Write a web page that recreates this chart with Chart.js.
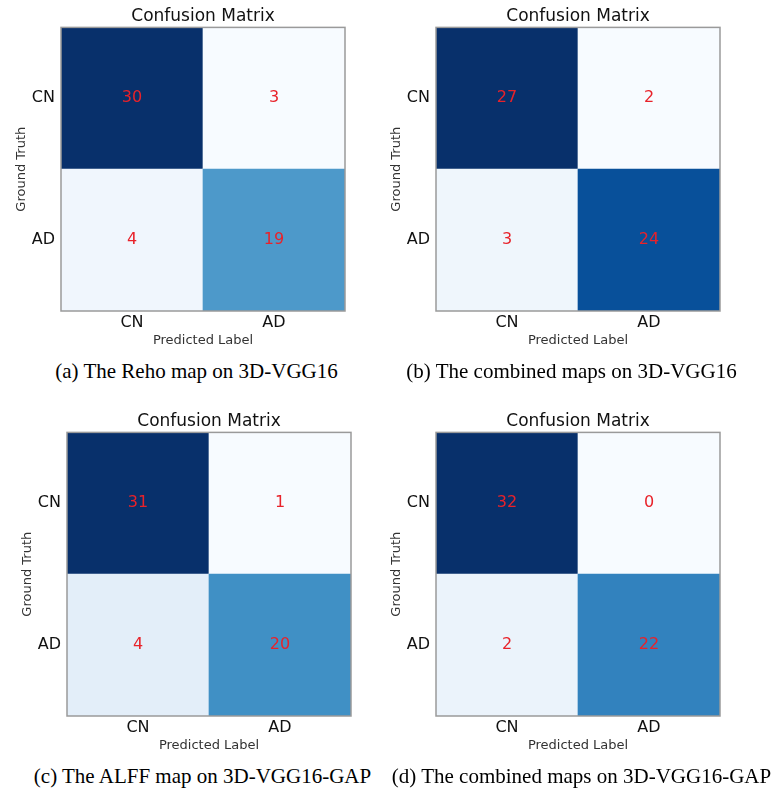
<!DOCTYPE html>
<html>
<head>
<meta charset="utf-8">
<script src="https://cdn.jsdelivr.net/npm/chart.js@4/dist/chart.umd.min.js"></script>
<style>
  body { margin: 0; background: #fff; }
  #page { position: relative; width: 773px; height: 789px; overflow: hidden; }
  .panel { position: absolute; }
  .caption {
    position: absolute; width: 383px; text-align: center; white-space: nowrap;
    font-family: "Liberation Serif", "Times New Roman", serif; font-size: 21px;
    line-height: 24px; color: #000;
  }
</style>
</head>
<body>
<div id="page">
  <div class="panel" style="left:0;top:0"><canvas id="cmA" width="383" height="348"></canvas></div>
  <div class="panel" style="left:375px;top:0"><canvas id="cmB" width="383" height="348"></canvas></div>
  <div class="panel" style="left:6px;top:405px"><canvas id="cmC" width="383" height="348"></canvas></div>
  <div class="panel" style="left:375px;top:405px"><canvas id="cmD" width="383" height="348"></canvas></div>

  <div class="caption" style="left:5px;top:359px">(a) The Reho map on 3D-VGG16</div>
  <div class="caption" style="left:380px;top:359px">(b) The combined maps on 3D-VGG16</div>
  <div class="caption" style="left:11px;top:764px">(c) The ALFF map on 3D-VGG16-GAP</div>
  <div class="caption" style="left:390px;top:764px">(d) The combined maps on 3D-VGG16-GAP</div>
</div>

<script>
// Confusion matrices: rows = ground truth, columns = predicted label
const predictedLabels = ['CN', 'AD'];
const truthLabels = ['CN', 'AD'];

const rehoVGG16 = [[30, 3], [4, 19]];
const combinedVGG16 = [[27, 2], [3, 24]];
const alffGAP = [[31, 1], [4, 20]];
const combinedGAP = [[32, 0], [2, 22]];

const FONT = '"DejaVu Sans", sans-serif';

// matplotlib "Blues" colormap
const BLUES = ['#f7fbff', '#deebf7', '#c6dbef', '#9ecae1', '#6baed6', '#4292c6', '#2171b5', '#08519c', '#08306b'];

function hexToRgb(h) {
  return [parseInt(h.slice(1, 3), 16), parseInt(h.slice(3, 5), 16), parseInt(h.slice(5, 7), 16)];
}

function blues(t) {
  t = Math.max(0, Math.min(1, t));
  const pos = t * (BLUES.length - 1);
  const i = Math.min(Math.floor(pos), BLUES.length - 2);
  const f = pos - i;
  const a = hexToRgb(BLUES[i]), b = hexToRgb(BLUES[i + 1]);
  const c = a.map((v, k) => Math.round(v + (b[k] - v) * f));
  return `rgb(${c[0]},${c[1]},${c[2]})`;
}

// counts in red + grey frame round the matrix
const cellText = {
  id: 'cellText',
  afterDatasetsDraw(chart) {
    const { ctx, chartArea } = chart;
    ctx.save();
    ctx.font = '16px ' + FONT;
    ctx.fillStyle = '#e8222a';
    ctx.textAlign = 'center';
    ctx.textBaseline = 'middle';
    chart.data.datasets.forEach((ds, i) => {
      chart.getDatasetMeta(i).data.forEach((bar, j) => {
        const p = bar.getCenterPoint();
        ctx.fillText(String(ds.counts[j]), p.x, p.y);
      });
    });
    ctx.strokeStyle = '#9a9a9a';
    ctx.lineWidth = 1.5;
    ctx.strokeRect(chartArea.left, chartArea.top, chartArea.width, chartArea.height);
    ctx.restore();
  }
};

function drawMatrix(id, matrix) {
  const flat = matrix.flat();
  const lo = Math.min(...flat), hi = Math.max(...flat);

  // stacked bars: first dataset sits at the bottom, so go from last row up
  const datasets = [];
  for (let r = truthLabels.length - 1; r >= 0; r--) {
    datasets.push({
      label: truthLabels[r],
      data: matrix[r].map(() => 1),
      counts: matrix[r],
      backgroundColor: matrix[r].map(v => blues((v - lo) / (hi - lo))),
      borderWidth: 0,
      barPercentage: 1,
      categoryPercentage: 1
    });
  }

  new Chart(document.getElementById(id), {
    type: 'bar',
    data: { labels: predictedLabels, datasets },
    options: {
      responsive: false,
      animation: false,
      layout: { padding: { left: 0, right: 38, top: 0, bottom: 0 } },
      scales: {
        x: {
          stacked: true,
          offset: true,
          grid: { display: false, drawTicks: false },
          border: { display: false },
          ticks: { padding: 2, color: '#111', font: { family: FONT, size: 16 } },
          title: {
            display: true, text: 'Predicted Label', color: '#333',
            font: { family: FONT, size: 13 }, padding: { top: 0, bottom: 0 }
          },
          afterFit: s => { s.height = 37; }
        },
        y: {
          type: 'linear',
          stacked: true,
          min: 0,
          max: truthLabels.length,
          grid: { display: false, drawTicks: false },
          border: { display: false },
          afterBuildTicks: s => {
            s.ticks = truthLabels.map((_, k) => ({ value: k + 0.5 }));
          },
          ticks: {
            padding: 6, color: '#111', font: { family: FONT, size: 16 },
            callback: v => truthLabels[truthLabels.length - 1 - Math.floor(v)]
          },
          title: {
            display: true, text: 'Ground Truth', color: '#333',
            font: { family: FONT, size: 13 }, padding: { top: 14, bottom: 0 }
          },
          afterFit: s => { s.width = 61; }
        }
      },
      plugins: {
        legend: { display: false },
        tooltip: { enabled: false },
        title: {
          display: true,
          text: 'Confusion Matrix',
          fullSize: false,
          color: '#111',
          font: { family: FONT, size: 17, weight: 'normal' },
          padding: { top: 6, bottom: 1 }
        }
      }
    },
    plugins: [cellText]
  });
}

drawMatrix('cmA', rehoVGG16);
drawMatrix('cmB', combinedVGG16);
drawMatrix('cmC', alffGAP);
drawMatrix('cmD', combinedGAP);
</script>
</body>
</html>
